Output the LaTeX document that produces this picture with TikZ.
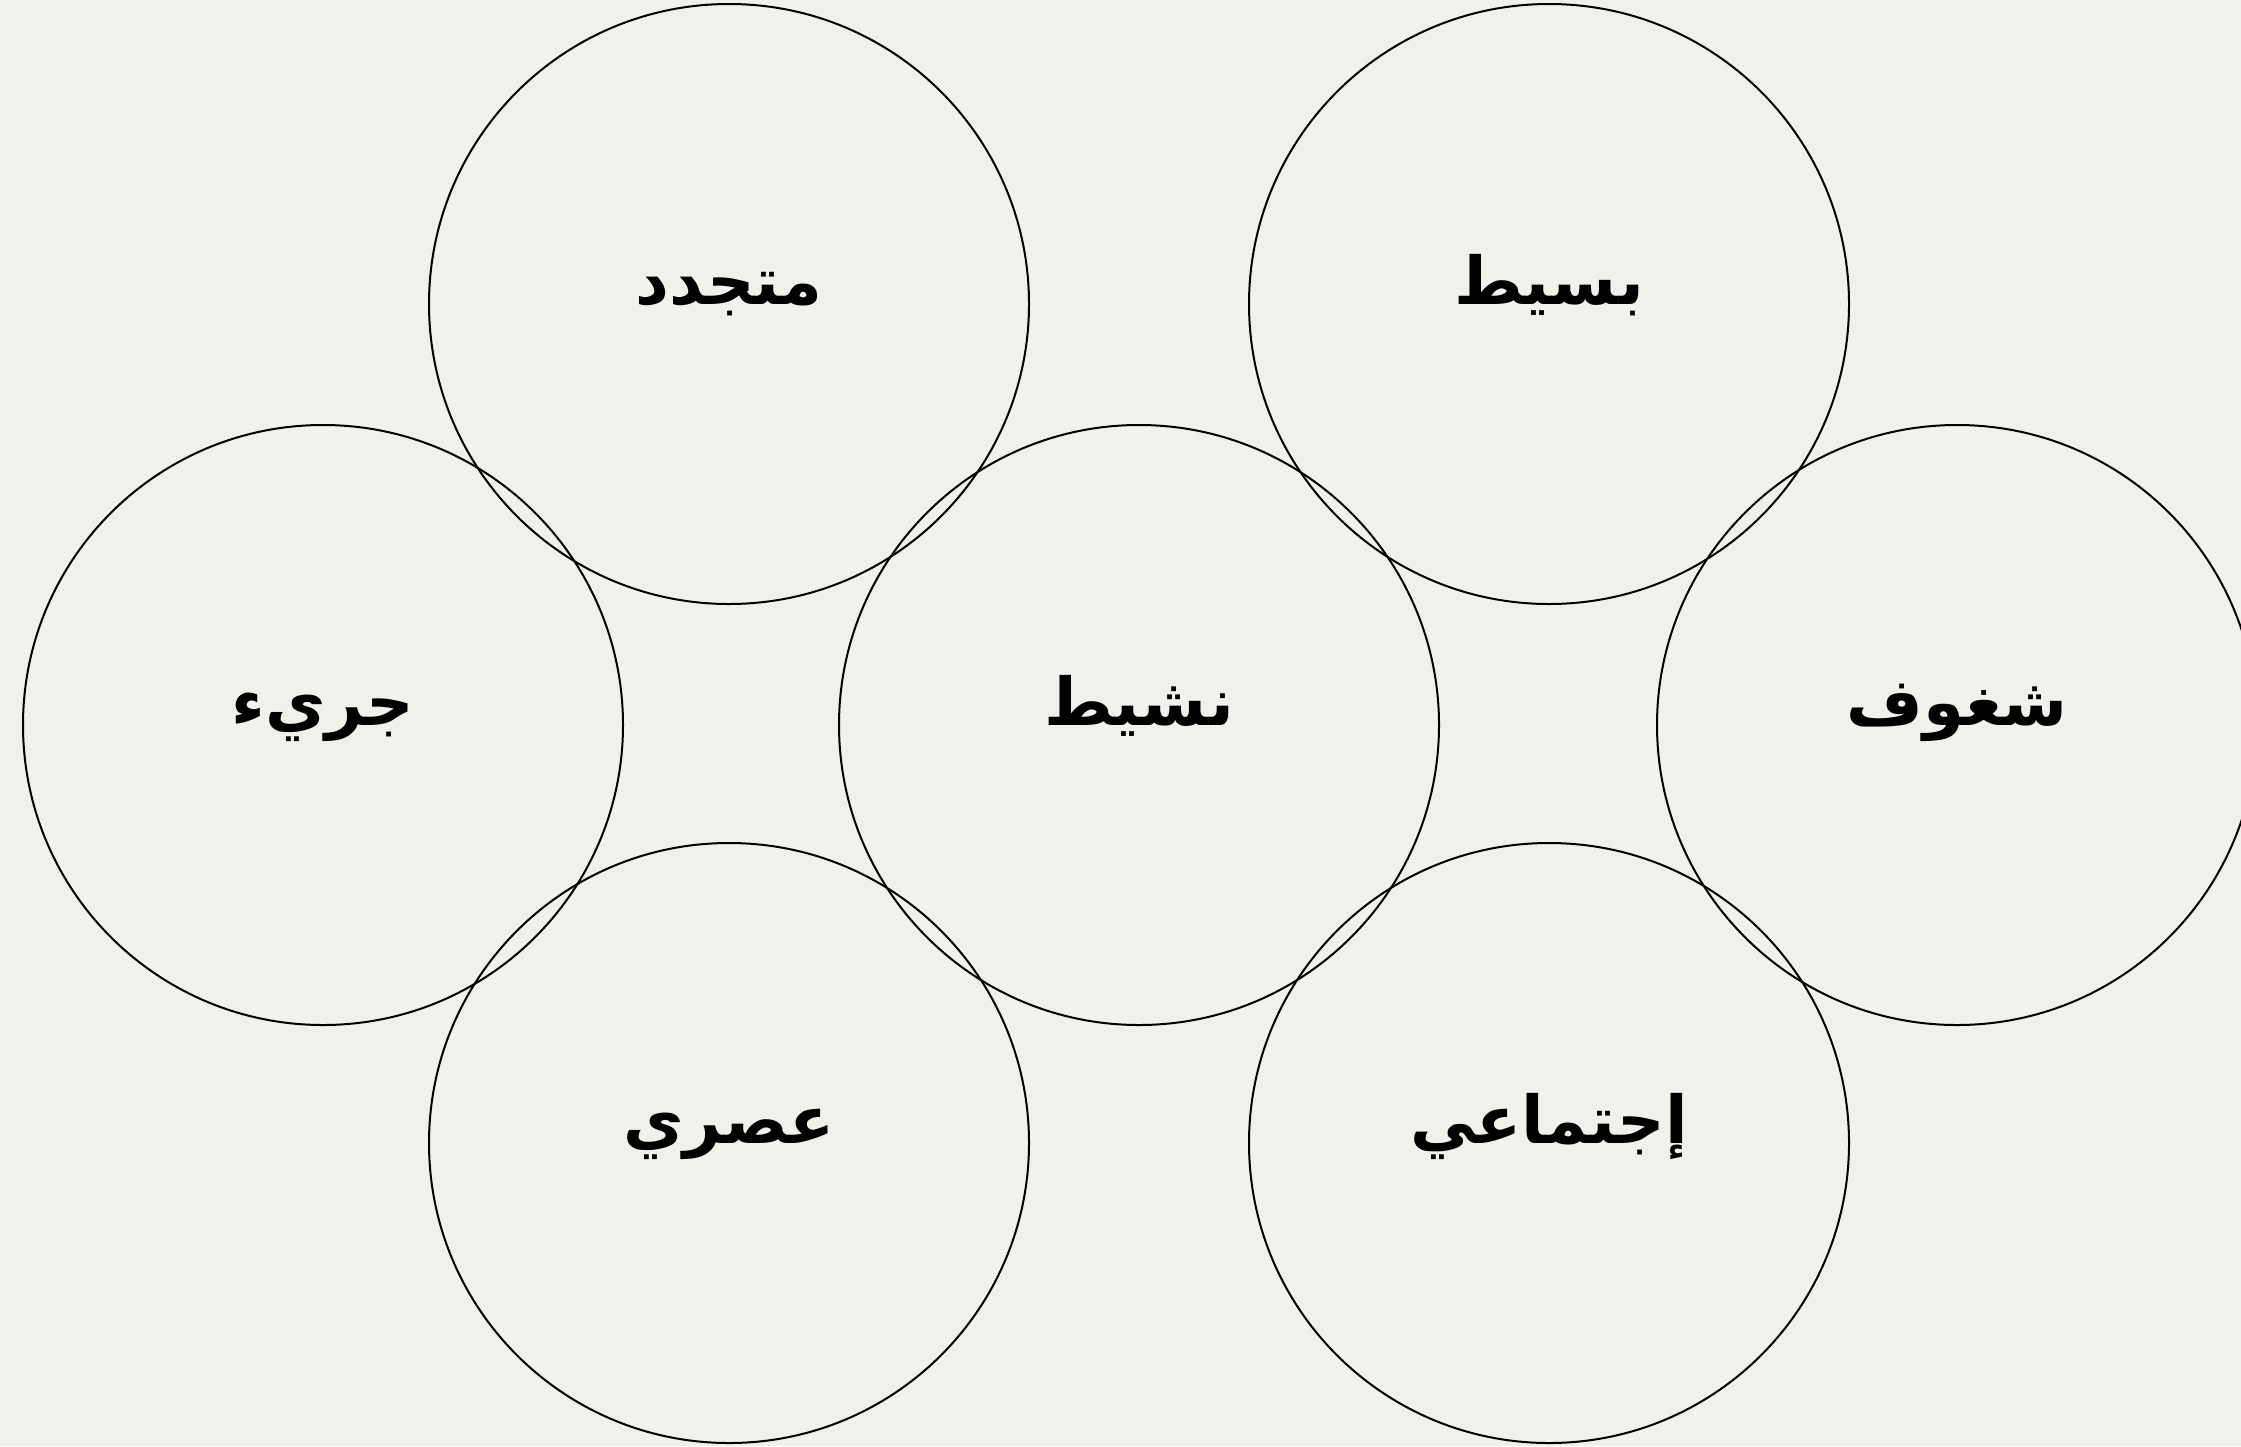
\documentclass[tikz,border=0pt]{standalone}
\usepackage{fontspec}
\TeXXeTstate=1
\newfontfamily\arabicfont[Script=Arabic]{DejaVu Sans}
\definecolor{bgcol}{RGB}{241,240,235}
\begin{document}
\begin{tikzpicture}[x=0.5pt,y=-0.5pt,
  ring/.style={circle,draw=black,line width=1pt,minimum size=300pt,inner sep=0pt},
  word/.style={anchor=base,font=\arabicfont\bfseries\fontsize{33}{40}\selectfont,text=black}]
\fill[bgcol] (0,0) rectangle (2241,1446);
\useasboundingbox (0,0) rectangle (2241,1446);
\node[ring] (c1) at (729,304) {};
\node[ring] (c2) at (1549,304) {};
\node[ring] (c3) at (323,725) {};
\node[ring] (c4) at (1139,725) {};
\node[ring] (c5) at (1957,725) {};
\node[ring] (c6) at (729,1143) {};
\node[ring] (c7) at (1549,1143) {};
\node[word] (t1) at (c1.center) {\beginR متجدد\endR};
\node[word] (t2) at (c2.center) {\beginR بسيط\endR};
\node[word] (t3) at (c3.center) {\beginR جريء\endR};
\node[word] (t4) at (c4.center) {\beginR نشيط\endR};
\node[word] (t5) at (c5.center) {\beginR شغوف\endR};
\node[word] (t6) at (c6.center) {\beginR عصري\endR};
\node[word] (t7) at (c7.center) {\beginR إجتماعي\endR};
\end{tikzpicture}
\end{document}
